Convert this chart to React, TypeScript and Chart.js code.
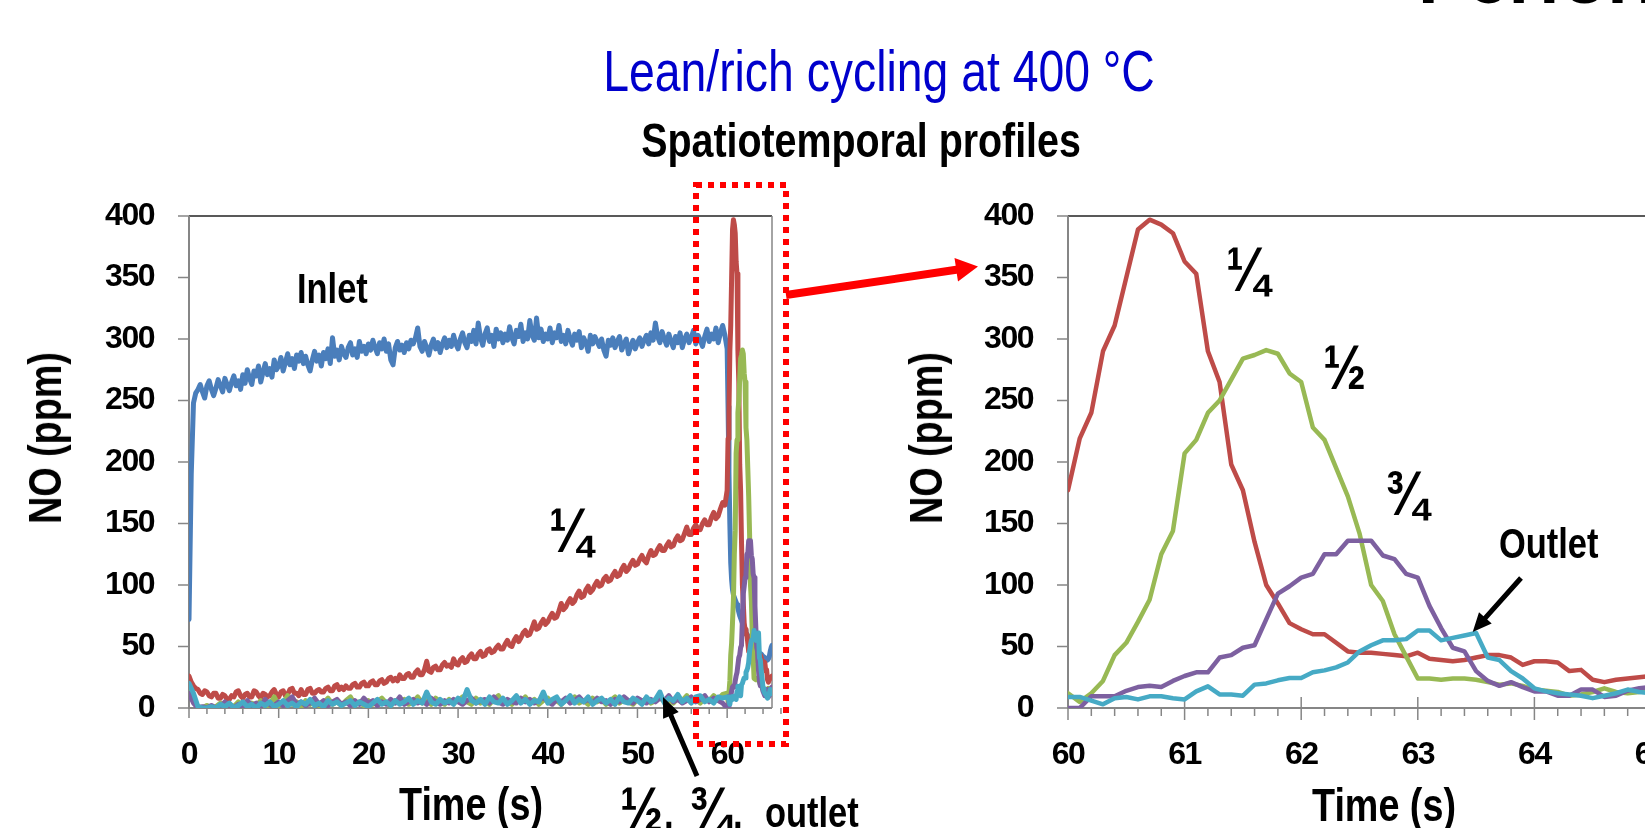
import React, { useEffect, useRef } from "react";
import { Chart, registerables } from "chart.js";

Chart.register(...registerables);

const SANS = "'Liberation Sans', Arial, sans-serif";
const NARROW_X = 0.82; // Arial-Narrow-like horizontal compression for overlay text

// ---------- time grids ----------
const FINE_STEP = 0.25; // s, 0 .. 59.75 (inlet, 1/4)
const MAIN_STEP = 0.5; // s, 0 .. 59.5 (1/2, 3/4, outlet)
const fineTimes: number[] = Array.from({ length: 240 }, (_, i) => i * FINE_STEP);
const mainTimes: number[] = Array.from({ length: 120 }, (_, i) => i * MAIN_STEP);
const zoomTimes: number[] = Array.from({ length: 51 }, (_, i) => (600 + i) / 10); // 60.0 .. 65.0

// ---------- axes ----------
const yTickStep = 50;
const yMax = 400;
const leftXRange = [0, 65];
const rightXRange = [60, 65];

// ---------- series: Inlet ----------
const inletMain = [
  72, 190, 248, 256, 259, 263, 257, 252, 262, 266, 259, 254, 260, 267, 262, 257, 268, 263, 258, 265,
  270, 262, 266, 259, 271, 264, 275, 268, 263, 274, 270, 278, 265, 273, 280, 271, 276, 269, 283, 275,
  278, 285, 274, 281, 288, 279, 284, 276, 287, 282, 289, 280, 286, 279, 274, 283, 290, 282, 287, 278,
  289, 284, 292, 280, 301, 286, 291, 283, 294, 288, 285, 293, 297, 287, 292, 285, 298, 290, 294, 288,
  296, 291, 299, 293, 288, 297, 292, 300, 290, 296, 283, 279, 293, 298, 291, 295, 289, 297, 292, 299,
  296, 301, 309, 294, 290, 298, 293, 287, 295, 300, 292, 297, 289, 296, 301, 293, 299, 294, 303, 296,
  292, 300, 305, 297, 293, 303, 298, 307, 296, 313, 301, 295, 304, 309, 298, 303, 294, 308, 300, 305,
  297, 304, 299, 310, 301, 296, 307, 302, 312, 298, 305, 300, 315, 303, 299, 317, 301, 308, 298, 304,
  300, 309, 297, 305, 301, 311, 298, 303, 296, 307, 300, 295, 304, 299, 306, 293, 301, 297, 290, 303,
  296, 302, 298, 294, 300, 291, 286, 299, 295, 301, 293, 298, 302, 291, 296, 300, 288, 294, 299, 292,
  297, 301, 294, 299, 303, 296, 305, 299, 313, 302, 297, 306, 300, 295, 304, 298, 293, 302, 297, 305,
  293, 300, 304, 297, 301, 307, 296, 303, 299, 294, 302, 308, 298, 304, 300, 309, 297, 305, 311, 303,
];
const inletZoom = [
  292, 245, 192, 150, 118, 104, 96, 92, 90, 88,
  86, 84, 81, 78, 75, 73, 71, 69, 67, 65,
  63, 62, 60, 59, 58, 57, 56, 54, 53, 51,
  50, 49, 48, 47, 46, 45, 45, 44, 44, 43,
  42, 42, 41, 40, 40, 39, 40, 42, 46, 49,
  51,
];

// ---------- series: 1/4 ----------
const quarterMain = [
  26, 21, 18, 16, 15, 12, 11, 14, 13, 10, 9, 12, 12, 8, 8, 11, 10, 7, 7, 10,
  9, 13, 14, 10, 8, 11, 12, 9, 9, 14, 13, 10, 8, 12, 11, 9, 10, 13, 15, 11,
  9, 13, 14, 10, 11, 15, 16, 12, 12, 10, 15, 11, 11, 15, 16, 12, 12, 14, 15, 13,
  13, 16, 17, 14, 14, 18, 19, 15, 17, 15, 18, 16, 16, 19, 20, 17, 17, 20, 21, 18,
  18, 21, 22, 19, 19, 22, 23, 20, 21, 24, 25, 22, 24, 22, 27, 24, 24, 27, 28, 25,
  25, 29, 31, 27, 27, 31, 38, 30, 29, 33, 34, 31, 31, 35, 37, 34, 35, 33, 40, 36,
  35, 39, 41, 37, 38, 42, 44, 40, 40, 44, 46, 42, 43, 47, 48, 45, 46, 49, 51, 48,
  48, 52, 55, 51, 50, 55, 58, 54, 57, 61, 63, 59, 60, 65, 70, 64, 65, 69, 72, 68,
  70, 74, 77, 73, 74, 79, 85, 80, 82, 86, 89, 85, 87, 92, 95, 90, 91, 96, 99, 94,
  96, 100, 103, 99, 100, 105, 107, 103, 104, 108, 111, 107, 108, 113, 116, 111, 113, 117, 120, 116,
  117, 121, 124, 120, 118, 124, 128, 124, 125, 129, 132, 128, 128, 132, 135, 131, 132, 137, 140, 136,
  137, 142, 147, 141, 141, 146, 149, 145, 145, 150, 153, 149, 149, 155, 159, 154, 156, 162, 167, 165,
];
const quarterZoom = [
  177, 219, 240, 290, 311, 350, 389, 397, 393, 386,
  363, 353, 290, 265, 198, 177, 135, 100, 85, 69,
  64, 60, 60, 53, 46, 45, 45, 44, 43, 42,
  45, 40, 39, 38, 39, 41, 43, 43, 41, 35,
  38, 38, 37, 30, 31, 23, 21, 23, 24, 25,
  26,
];

// ---------- series: 1/2 ----------
const halfMain = [
  15, 6, 1, 0, 2, 0, 1, 4, 0, 3,
  1, 5, 2, 0, 4, 2, 6, 1, 3, 9,
  2, 4, 10, 3, 5, 1, 6, 3, 7, 2,
  4, 8, 3, 5, 2, 6, 9, 3, 5, 2,
  6, 3, 5, 8, 4, 2, 6, 4, 7, 3,
  5, 9, 4, 6, 3, 8, 5, 3, 7, 4,
  6, 9, 5, 3, 8, 4, 6, 3, 7, 10,
  4, 6, 3, 7, 5, 9, 4, 7, 3, 6,
  8, 4, 6, 3, 7, 5, 9, 4, 6, 3,
  8, 5, 7, 3, 6, 9, 4, 7, 5, 3,
  7, 5, 8, 4, 6, 9, 5, 7, 4, 8,
  6, 10, 5, 7, 4, 8, 6, 10, 7, 11,
];
const halfZoom = [
  12, 5, 12, 22, 43, 53, 70, 88, 125, 144,
  207, 218, 240, 250, 267, 284, 287, 291, 288, 272,
  265, 228, 218, 195, 172, 142, 100, 87, 60, 42,
  24, 24, 23, 24, 24, 23, 21, 19, 20, 18,
  15, 14, 13, 10, 11, 13, 16, 13, 12, 13,
  14,
];

// ---------- series: 3/4 ----------
const threeQuarterMain = [
  12, 4, 0, 1, 0, 2, 0, 1, 5, 2,
  0, 3, 1, 6, 2, 4, 1, 7, 3, 2,
  5, 2, 6, 9, 3, 5, 2, 4, 8, 3,
  6, 2, 5, 7, 3, 5, 2, 6, 3, 8,
  4, 6, 2, 5, 3, 7, 4, 9, 3, 5,
  7, 4, 6, 3, 8, 5, 3, 6, 4, 7,
  5, 3, 6, 8, 4, 6, 7, 4, 9, 5,
  3, 7, 5, 4, 8, 5, 7, 4, 6, 9,
  5, 3, 7, 5, 8, 4, 6, 9, 5, 7,
  4, 8, 5, 6, 3, 7, 5, 9, 6, 4,
  8, 6, 4, 7, 5, 8, 6, 10, 5, 7,
  4, 6, 9, 5, 7, 10, 5, 8, 6, 4,
];
const threeQuarterZoom = [
  0, 0, 9.5, 9.5, 9.5, 14, 17, 18, 17, 22,
  26, 29, 29, 41, 43, 49, 51, 72, 93, 99,
  106, 109, 125, 125, 136, 136, 136, 124, 121, 109,
  106, 83, 65, 49, 46, 30, 22, 18, 21, 17,
  13.5, 13.5, 10, 10, 15, 15, 9, 10, 14, 16,
  17,
];

// ---------- series: outlet ----------
const outletMain = [
  20, 12, 1, 0, 0, 1, 0, 3, 1, 4,
  0, 2, 5, 1, 3, 0, 4, 2, 5, 1,
  3, 6, 2, 4, 1, 5, 3, 7, 2, 4,
  1, 6, 3, 5, 2, 4, 6, 2, 5, 3,
  1, 4, 7, 3, 5, 2, 6, 3, 5, 8,
  3, 6, 4, 13, 5, 3, 7, 4, 6, 3,
  8, 5, 15, 6, 4, 7, 3, 9, 5, 4,
  8, 3, 6, 10, 4, 7, 3, 6, 5, 13,
  4, 7, 9, 3, 6, 10, 4, 7, 5, 9,
  3, 6, 8, 4, 7, 3, 9, 5, 4, 8,
  6, 3, 9, 5, 7, 13, 4, 8, 6, 11,
  5, 8, 4, 9, 10, 5, 7, 4, 9, 8,
];
const outletZoom = [
  9, 9, 6, 3, 8, 9, 7, 9.5, 9.5, 8,
  7, 13.5, 17.6, 11, 11, 10, 19, 20, 22.5, 24.4,
  24.4, 29, 30.6, 33, 37, 46, 51, 55, 55, 56,
  63, 63, 55, 57, 59, 61, 41, 39, 30, 24,
  16, 13.5, 12, 11, 10, 8, 10, 12, 15, 13,
  12,
];

const COLORS = {
  inlet: "#4A7EBB",
  quarter: "#BE4B48",
  half: "#98B954",
  threeQuarter: "#7D60A0",
  outlet: "#46AAC5",
};

function pts(times: number[], vals: number[]) {
  return times.map((t, i) => ({ x: t, y: vals[i] }));
}

type FrameCfg = { xMinor: number; xMajor: number; majorUp: number; majorDown: number; minorDown: number; yTick: number };

function framePlugin(cfg: FrameCfg) {
  return {
    id: "frame",
    beforeDraw(chart: any) {
      chart.ctx.letterSpacing = "-1.5px";
    },
    beforeDatasetsDraw(chart: any) {
      const { ctx, chartArea: a, scales } = chart;
      const xs = scales.x;
      const ys = scales.y;
      const seg = (x1: number, y1: number, x2: number, y2: number) => {
        ctx.beginPath();
        ctx.moveTo(x1, y1);
        ctx.lineTo(x2, y2);
        ctx.stroke();
      };
      ctx.save();
      ctx.lineCap = "butt";
      ctx.strokeStyle = "#222";
      ctx.lineWidth = 1.5;
      seg(a.left, a.top, a.right, a.top);
      ctx.strokeStyle = "#868686";
      seg(a.right, a.top, a.right, a.bottom);
      ctx.lineWidth = 2;
      seg(a.left, a.top, a.left, a.bottom + 1);
      seg(a.left, a.bottom, a.right, a.bottom);
      ctx.lineWidth = 1.5;
      for (const t of ys.ticks) {
        const y = ys.getPixelForValue(t.value);
        seg(a.left - cfg.yTick, y, a.left, y);
      }
      const n = Math.round((xs.max - xs.min) / cfg.xMinor);
      for (let i = 0; i <= n; i++) {
        const v = xs.min + i * cfg.xMinor;
        const x = xs.getPixelForValue(v);
        const r = v / cfg.xMajor;
        const major = Math.abs(r - Math.round(r)) < 1e-6;
        if (major) seg(x, a.bottom - cfg.majorUp, x, a.bottom + cfg.majorDown);
        else seg(x, a.bottom, x, a.bottom + cfg.minorDown);
      }
      ctx.restore();
    },
  };
}

function buildConfig(o: {
  datasets: any[];
  xMin: number;
  xMax: number;
  xStep: number;
  yAxisWidth: number;
  padRight: number;
  frame: FrameCfg;
}) {
  const tickFont = { family: SANS, size: 32, weight: "bold" as const };
  return {
    type: "line" as const,
    data: { datasets: o.datasets },
    options: {
      responsive: false,
      maintainAspectRatio: false,
      animation: false as const,
      events: [],
      layout: { padding: { left: 0, top: 216, right: o.padRight, bottom: 0 } },
      plugins: { legend: { display: false }, tooltip: { enabled: false }, title: { display: false } },
      elements: { point: { radius: 0 }, line: { tension: 0, borderJoinStyle: "round" as const, borderCapStyle: "round" as const } },
      scales: {
        x: {
          type: "linear" as const,
          min: o.xMin,
          max: o.xMax,
          grid: { display: false, drawTicks: false },
          border: { display: false },
          ticks: { stepSize: o.xStep, includeBounds: false, autoSkip: false, maxRotation: 0, padding: 28, color: "#000", font: tickFont },
          afterFit: (s: any) => {
            s.height = 120;
          },
        },
        y: {
          type: "linear" as const,
          min: 0,
          max: yMax,
          grid: { display: false, drawTicks: false },
          border: { display: false },
          ticks: { stepSize: yTickStep, padding: 35, color: "#000", font: tickFont },
          afterFit: (s: any) => {
            s.width = o.yAxisWidth;
          },
        },
      },
    },
    plugins: [framePlugin(o.frame)],
  };
}

function ds(label: string, color: string, data: any[], width: number, order: number) {
  return { label, data, borderColor: color, backgroundColor: color, borderWidth: width, pointRadius: 0, fill: false, order };
}

function ChartCanvas({ left, width, make }: { left: number; width: number; make: () => any }) {
  const ref = useRef<HTMLCanvasElement>(null);
  useEffect(() => {
    const chart = new Chart(ref.current as HTMLCanvasElement, make());
    return () => chart.destroy();
  }, []);
  return <canvas ref={ref} width={width} height={828} style={{ position: "absolute", left, top: 0, width, height: 828 }} />;
}

function Txt(props: { text: string; x: number; baseline: number; size: number; align?: "left" | "center"; color?: string; weight?: number; sx?: number }) {
  const { text, x, baseline, size, align = "left", color = "#000", weight = 700, sx = NARROW_X } = props;
  return (
    <div
      style={{
        position: "absolute",
        left: x,
        top: baseline - 0.8465 * size,
        fontFamily: SANS,
        fontSize: size,
        lineHeight: `${size}px`,
        fontWeight: weight,
        color,
        whiteSpace: "nowrap",
        transformOrigin: align === "center" ? "50% 50%" : "0 50%",
        transform: align === "center" ? `translateX(-50%) scaleX(${sx})` : `scaleX(${sx})`,
      }}
    >
      {text}
    </div>
  );
}

function VTxt({ text, cx, cy, size }: { text: string; cx: number; cy: number; size: number }) {
  return (
    <div
      style={{
        position: "absolute",
        left: cx,
        top: cy,
        fontFamily: SANS,
        fontSize: size,
        lineHeight: `${size}px`,
        fontWeight: 700,
        color: "#000",
        whiteSpace: "nowrap",
        transform: `translate(-50%, -50%) rotate(-90deg) scaleX(${NARROW_X})`,
      }}
    >
      {text}
    </div>
  );
}

function arrowPoints(x1: number, y1: number, x2: number, y2: number, shaft: number, headLen: number, headW: number) {
  const dx = x2 - x1;
  const dy = y2 - y1;
  const L = Math.hypot(dx, dy);
  const ux = dx / L;
  const uy = dy / L;
  const px = -uy;
  const py = ux;
  const bx = x2 - ux * headLen;
  const by = y2 - uy * headLen;
  const s = shaft / 2;
  const h = headW / 2;
  const p = [
    [x1 + px * s, y1 + py * s],
    [bx + px * s, by + py * s],
    [bx + px * h, by + py * h],
    [x2, y2],
    [bx - px * h, by - py * h],
    [bx - px * s, by - py * s],
    [x1 - px * s, y1 - py * s],
  ];
  return p.map((q) => `${q[0].toFixed(1)},${q[1].toFixed(1)}`).join(" ");
}

export default function App() {
  const makeLeft = () =>
    buildConfig({
      datasets: [
        ds("Inlet", COLORS.inlet, [...pts(fineTimes, inletMain), ...pts(zoomTimes, inletZoom)], 5, 5),
        ds("1/4", COLORS.quarter, [...pts(fineTimes, quarterMain), ...pts(zoomTimes, quarterZoom)], 5, 4),
        ds("1/2", COLORS.half, [...pts(mainTimes, halfMain), ...pts(zoomTimes, halfZoom)], 5, 3),
        ds("3/4", COLORS.threeQuarter, [...pts(mainTimes, threeQuarterMain), ...pts(zoomTimes, threeQuarterZoom)], 5, 2),
        ds("Outlet", COLORS.outlet, [...pts(mainTimes, outletMain), ...pts(zoomTimes, outletZoom)], 5, 1),
      ],
      xMin: leftXRange[0],
      xMax: leftXRange[1],
      xStep: 10,
      yAxisWidth: 189,
      padRight: 820 - 189 - 583,
      frame: { xMinor: 2, xMajor: 10, majorUp: 0, majorDown: 10, minorDown: 6, yTick: 11 },
    });
  const makeRight = () =>
    buildConfig({
      datasets: [
        ds("1/4", COLORS.quarter, pts(zoomTimes, quarterZoom), 4.5, 4),
        ds("1/2", COLORS.half, pts(zoomTimes, halfZoom), 4.5, 3),
        ds("3/4", COLORS.threeQuarter, pts(zoomTimes, threeQuarterZoom), 4.5, 2),
        ds("Outlet", COLORS.outlet, pts(zoomTimes, outletZoom), 4.5, 1),
      ],
      xMin: rightXRange[0],
      xMax: rightXRange[1],
      xStep: 1,
      yAxisWidth: 238,
      padRight: 890 - 238 - 583,
      frame: { xMinor: 0.2, xMajor: 1, majorUp: 11, majorDown: 12, minorDown: 8, yTick: 11 },
    });

  return (
    <div style={{ position: "fixed", left: 0, top: 0, width: 1645, height: 828, overflow: "hidden", background: "#fff" }}>
      <ChartCanvas left={0} width={820} make={makeLeft} />
      <ChartCanvas left={830} width={890} make={makeRight} />

      <Txt text="Performance" x={1418} baseline={4} size={74} sx={1} />
      <Txt text="Lean/rich cycling at 400 °C" x={879} baseline={92} size={56.5} weight={400} align="center" color="#0000CC" />
      <Txt text="Spatiotemporal profiles" x={861} baseline={158} size={48} align="center" />

      <VTxt text="NO (ppm)" cx={44.5} cy={438} size={46} />
      <VTxt text="NO (ppm)" cx={925.5} cy={438} size={46} />
      <Txt text="Time (s)" x={471} baseline={820} size={46} align="center" />
      <Txt text="Time (s)" x={1384} baseline={821} size={46} align="center" />

      <Txt text="Inlet" x={297} baseline={304} size={42} />
      <Txt text="¼" x={549} baseline={552} size={63} />
      <Txt text="½" x={620} baseline={831} size={63} />
      <Txt text="," x={664} baseline={829} size={42} />
      <Txt text="¾" x={689} baseline={831} size={63} />
      <Txt text="," x={733} baseline={829} size={42} />
      <Txt text="outlet" x={765} baseline={828} size={42} />

      <Txt text="¼" x={1226} baseline={291} size={63} />
      <Txt text="½" x={1323} baseline={389} size={63} />
      <Txt text="¾" x={1385} baseline={515} size={63} />
      <Txt text="Outlet" x={1499} baseline={559} size={42} />

      <svg width={1645} height={828} style={{ position: "absolute", left: 0, top: 0 }}>
        <rect x={696} y={185} width={90} height={559} fill="none" stroke="#FF0000" strokeWidth={6} strokeDasharray="6 6" />
        <polygon points={arrowPoints(786, 295, 978, 266.5, 8, 22, 24)} fill="#FF0000" />
        <polygon points={arrowPoints(697, 776, 663, 697, 5, 20, 17)} fill="#000" />
        <polygon points={arrowPoints(1521, 578, 1472.7, 632, 5, 19, 17)} fill="#000" />
      </svg>
    </div>
  );
}
